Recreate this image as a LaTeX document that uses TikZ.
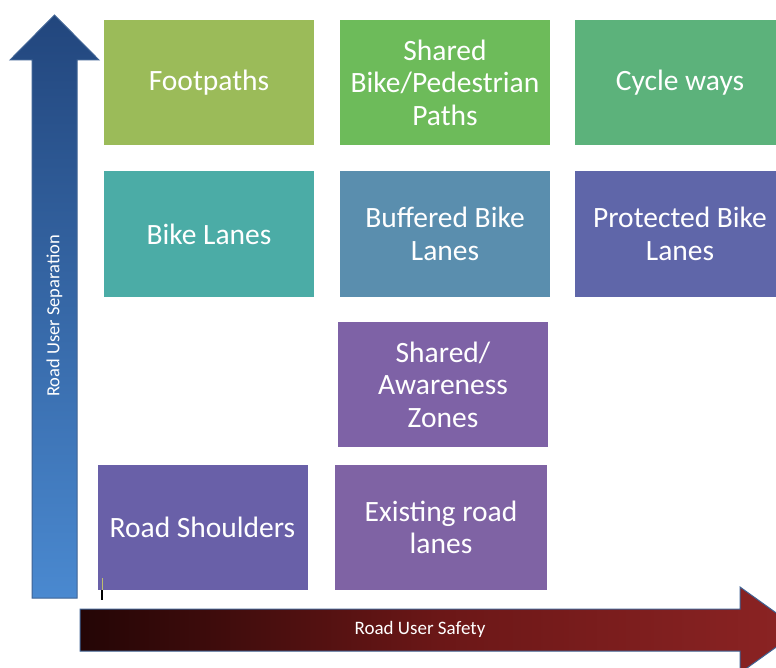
\documentclass[tikz,border=0pt]{standalone}
\usepackage{fontspec}
\setmainfont{Carlito}
\definecolor{cFoot}{HTML}{9BBB59}
\definecolor{cShared}{HTML}{6DBB5A}
\definecolor{cCycle}{HTML}{5CB27B}
\definecolor{cBike}{HTML}{4BACA6}
\definecolor{cBuff}{HTML}{5A8EAE}
\definecolor{cProt}{HTML}{5F66A9}
\definecolor{cAware}{HTML}{7E62A6}
\definecolor{cShoulder}{HTML}{6960A8}
\definecolor{cExist}{HTML}{7F63A4}
\definecolor{arrowEdge}{HTML}{3F6394}
\definecolor{blueTop}{HTML}{22467D}
\definecolor{blueBot}{HTML}{4A89D0}
\pgfdeclarehorizontalshading{safetyshade}{100bp}{rgb(0bp)=(0,0,0); rgb(25bp)=(0.14,0.02,0.02); rgb(50bp)=(0.42,0.09,0.09); rgb(75bp)=(0.55,0.14,0.14); rgb(100bp)=(0.64,0.19,0.18)}
\tikzset{
  box/.style={rectangle, fill=#1, minimum width=210pt, minimum height=125pt,
    inner sep=0pt, text=white, align=center, font=\fontsize{29.5}{32.5}\selectfont},
  axislabel/.style={text=white, inner sep=0pt, font=\fontsize{19}{21}\selectfont}
}
\begin{document}
\begin{tikzpicture}[x=1pt,y=-1pt]
\useasboundingbox (0,0) rectangle (776,668);
\clip (0,0) rectangle (776,668);
\fill[white] (0,0) rectangle (776,668);

% vertical arrow
\shadedraw[top color=blueTop, bottom color=blueBot, draw=arrowEdge, line width=1pt]
  (32,598) -- (77,598) -- (77,60) -- (99,60) -- (54.5,15) -- (10,60) -- (32,60) -- cycle;
\node[axislabel, rotate=90, font=\fontsize{18.5}{20}\selectfont] (sep) at (54.5,316) {Road User Separation};

% horizontal arrow
\shadedraw[shading=safetyshade, draw=arrowEdge, line width=1pt]
  (80,609) -- (740,609) -- (740,587) -- (800,630) -- (740,673) -- (740,651) -- (80,651) -- cycle;
\node[axislabel] (safe) at (420,629) {Road User Safety};

% boxes
\node[box=cFoot] (footpaths) at (209,82.5) {Footpaths};
\node[box=cShared] (sharedpaths) at (445,82.5) {Shared\\Bike/Pedestrian\\Paths};
\node[box=cCycle] (cycleways) at (680,82.5) {Cycle ways};
\node[box=cBike] (bikelanes) at (209,234) {Bike Lanes};
\node[box=cBuff] (buffered) at (445,234) {Buffered Bike\\Lanes};
\node[box=cProt] (protected) at (680,234) {Protected Bike\\Lanes};
\node[box=cAware] (awareness) at (443,384.5) {Shared/\\Awareness\\Zones};
\node[box=cShoulder] (shoulders) at (202.5,527.5) {Road Shoulders};
\node[box=cExist, minimum width=212pt] (existing) at (441,527.5) {Existing road\\lanes};

% small tick
\coordinate (tickA) at (102,578);
\coordinate (tickB) at (102,600);
\coordinate (tickM) at (102,590);
\draw[line width=1pt, color={rgb,255:red,190;green,190;blue,110}] (tickA) -- (tickM);
\draw[line width=1.2pt, black] (tickM) -- (tickB);
\end{tikzpicture}
\end{document}
